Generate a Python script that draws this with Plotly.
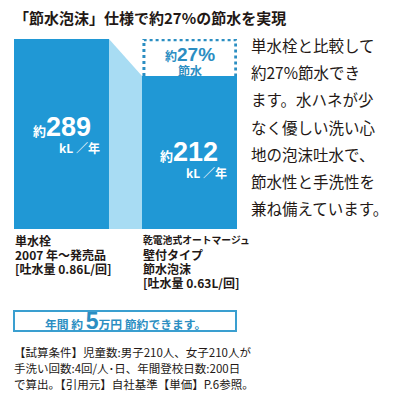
import plotly.graph_objects as go

# ---- data ----
categories = ["単水栓", "節水泡沫"]
usage_kl = [289, 212]
save_pct = 27
save_yen_man = 5
label_lines_1 = ["単水栓", "2007 年～発売品", "[吐水量 0.86L/回]"]
label_lines_2 = ["乾電池式オートマージュ", "壁付タイプ", "節水泡沫", "[吐水量 0.63L/回]"]
body_lines = ["単水栓と比較して", "約27%節水でき", "ます。水ハネが少", "なく優しい洗い心",
              "地の泡沫吐水で、", "節水性と手洗性を", "兼ね備えています。"]
note_lines = ["【試算条件】児童数:男子210人、女子210人が",
              "手洗い回数:4回/人･日、年間登校日数:200日",
              "で算出。【引用元】自社基準【単価】P.6参照。"]
title = "「節水泡沫」仕様で約27%の節水を実現"

# ---- style ----
W = H = 395
BLUE = "#2098d5"
LIGHT = "#a8dcf3"
TEAL = "#2b8ec2"
DARK = "#231815"
JP = "Noto Sans CJK JP"
NUM = "Liberation Sans"
AXIS_FLOOR = -106  # visual (non-zero) baseline of the illustration
BW = 0.742
xpos = [0, 1]

def px(x):
    return x / W

def py(y):
    return 1 - y / H

fig = go.Figure()

# connecting light polygon between bars
fig.add_trace(go.Scatter(
    x=[xpos[0] + BW / 2, xpos[1] - BW / 2, xpos[1] - BW / 2, xpos[0] + BW / 2],
    y=[usage_kl[0], usage_kl[1], AXIS_FLOOR, AXIS_FLOOR],
    fill="toself", fillcolor=LIGHT, line=dict(width=0), mode="lines",
    hoverinfo="skip", showlegend=False))

fig.add_trace(go.Bar(
    x=xpos, y=[v - AXIS_FLOOR for v in usage_kl], base=AXIS_FLOOR,
    width=BW, marker=dict(color=BLUE, line=dict(width=0)),
    hovertext=categories, showlegend=False))

# dashed box showing saved amount
x0, x1 = xpos[1] - BW / 2 + 0.015, xpos[1] + BW / 2 - 0.01
fig.add_shape(type="path",
              path=f"M {x0},{usage_kl[1]} L {x0},{usage_kl[0] - 1.5} L {x1},{usage_kl[0] - 1.5} L {x1},{usage_kl[1]}",
              xref="x", yref="y", line=dict(color=TEAL, width=3, dash="dot"))

fig.update_xaxes(visible=False, range=[-BW / 2, 1 + BW / 2], domain=[px(14), px(237)])
fig.update_yaxes(visible=False, range=[AXIS_FLOOR, usage_kl[0]], domain=[py(229), py(39)])

ann = []

def text(x, y, t, size, color=DARK, xanchor="left", family=JP):
    ann.append(dict(x=px(x), y=py(y), xref="paper", yref="paper", text=t,
                    showarrow=False, xanchor=xanchor, yanchor="middle",
                    font=dict(family=family, size=size, color=color)))

# title
text(12, 17, f"<b>{title}</b>", 15)

# values inside bars
def big_value(v):
    return (f"<b>約<span style='font-family:{NUM};font-size:27px'>{v}</span></b>")

text(62, 127, big_value(usage_kl[0]), 13, "white", xanchor="center")
text(79, 147, "<b>kL ／年</b>", 12, "white", xanchor="center")
text(189, 152, big_value(usage_kl[1]), 13, "white", xanchor="center")
text(206, 172, "<b>kL ／年</b>", 12, "white", xanchor="center")

# saving inside dashed box
text(190, 55, f"<b>約<span style='font-family:{NUM};font-size:19px'>{save_pct}%</span></b>", 12, TEAL, xanchor="center")
text(190, 70, "<b>節水</b>", 12, TEAL, xanchor="center")

# bar labels
for t, y in zip(label_lines_1, [240, 254, 268]):
    text(13, y, f"<b>{t}</b>", 12)
for t, y, s in zip(label_lines_2, [240, 254, 268, 282], [9.8, 12, 12, 12]):
    text(141, y, f"<b>{t}</b>", s)

# right paragraph
for i, t in enumerate(body_lines):
    text(249, 45 + i * 27.2, t, 15.5)

# savings box
fig.add_shape(type="rect", xref="paper", yref="paper",
              x0=px(14), x1=px(236), y0=py(331), y1=py(311),
              line=dict(color="#3a9fd0", width=2))
text(126, 321, f"<b>年間 約 <span style='font-family:{NUM};font-size:23px'>{save_yen_man}</span>万円 節約できます。</b>",
     11.8, TEAL, xanchor="center")

# notes
for i, t in enumerate(note_lines):
    text(12, 352 + i * 16.2, t, 11.5)

fig.update_layout(width=W, height=H, margin=dict(l=0, r=0, t=0, b=0),
                  paper_bgcolor="white", plot_bgcolor="white",
                  annotations=ann, bargap=0)
fig.write_html("out.html", config={"displayModeBar": False},
               post_script="document.body.style.margin='0';document.body.style.overflow='hidden';")
